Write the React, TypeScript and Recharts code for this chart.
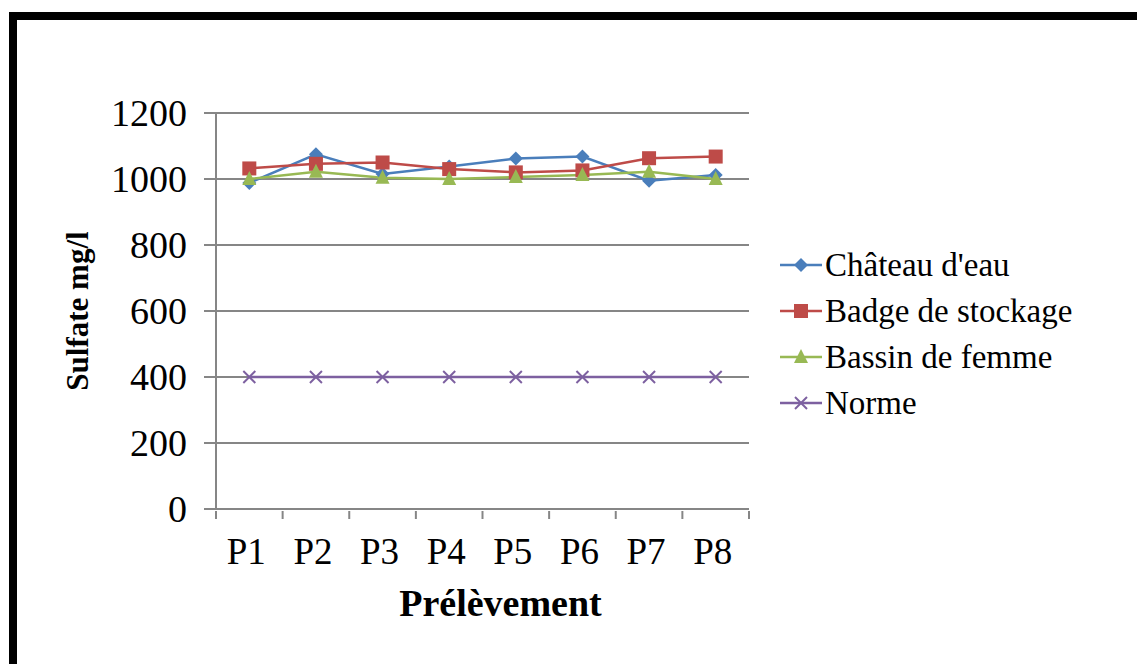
import React from 'react'
import {
  LineChart,
  Line,
  XAxis,
  YAxis,
  CartesianGrid,
  Legend,
} from 'recharts'

const categories = ['P1', 'P2', 'P3', 'P4', 'P5', 'P6', 'P7', 'P8']
const chateauDeau = [988, 1075, 1015, 1038, 1062, 1068, 995, 1012]
const badgeDeStockage = [1032, 1046, 1050, 1030, 1020, 1026, 1063, 1068]
const bassinDeFemme = [1000, 1022, 1004, 1000, 1006, 1012, 1022, 1000]
const norme = [400, 400, 400, 400, 400, 400, 400, 400]
const yTicks = [0, 200, 400, 600, 800, 1000, 1200]

const seriesInfo = [
  { key: 'chateau', name: "Château d'eau", color: '#4A7EBB', shape: 'diamond' },
  { key: 'badge', name: 'Badge de stockage', color: '#BE4B48', shape: 'square' },
  { key: 'bassin', name: 'Bassin de femme', color: '#98B954', shape: 'triangle' },
  { key: 'norme', name: 'Norme', color: '#7D60A0', shape: 'star' },
]

const data = categories.map((c, i) => ({
  name: c,
  chateau: chateauDeau[i],
  badge: badgeDeStockage[i],
  bassin: bassinDeFemme[i],
  norme: norme[i],
}))

const FONT = '"Liberation Serif", "Times New Roman", serif'
const AXIS_GRAY = '#868686'

const CHART_W = 1137
const CHART_H = 664
const MARGIN = { top: 113, right: 388, bottom: 45, left: 66 }
const Y_AXIS_W = 150
const X_AXIS_H = 110
const PLOT_W = CHART_W - MARGIN.left - MARGIN.right - Y_AXIS_W
const BAND = PLOT_W / categories.length

function marker(shape: string, cx: number, cy: number, color: string, k: string | number) {
  if (shape === 'diamond') {
    const r = 7
    return (
      <polygon key={k} points={`${cx},${cy - r} ${cx + r},${cy} ${cx},${cy + r} ${cx - r},${cy}`} fill={color} />
    )
  }
  if (shape === 'square') {
    return <rect key={k} x={cx - 7} y={cy - 7} width={14} height={14} fill={color} />
  }
  if (shape === 'triangle') {
    return (
      <polygon key={k} points={`${cx},${cy - 8} ${cx + 7},${cy + 6} ${cx - 7},${cy + 6}`} fill={color} />
    )
  }
  return (
    <g key={k} stroke={color} strokeWidth={2}>
      <line x1={cx - 6} y1={cy - 6} x2={cx + 6} y2={cy + 6} />
      <line x1={cx - 6} y1={cy + 6} x2={cx + 6} y2={cy - 6} />
    </g>
  )
}

function makeDot(shape: string, color: string) {
  return (props: any) => {
    const { cx, cy, index } = props
    if (cx == null || cy == null) return <g key={index} />
    return marker(shape, cx, cy, color, index)
  }
}

function XTick(props: any) {
  const { x, y, payload, index } = props
  const last = index === categories.length - 1
  return (
    <g>
      <line x1={x - BAND / 2} y1={y} x2={x - BAND / 2} y2={y + 8} stroke={AXIS_GRAY} strokeWidth={2} />
      {last && (
        <line x1={x + BAND / 2} y1={y} x2={x + BAND / 2} y2={y + 8} stroke={AXIS_GRAY} strokeWidth={2} />
      )}
      <text x={x - 3} y={y + 53} textAnchor="middle" fontFamily={FONT} fontSize={37} fill="#000">
        {payload.value}
      </text>
    </g>
  )
}

function LegendContent() {
  return (
    <div style={{ fontFamily: FONT, fontSize: 33, color: '#000' }}>
      {seriesInfo.map((s) => (
        <div key={s.key} style={{ display: 'flex', alignItems: 'center', height: 46 }}>
          <svg width={46} height={20} style={{ marginRight: 1 }}>
            <line x1={2} y1={10} x2={44} y2={10} stroke={s.color} strokeWidth={2.5} />
            {marker(s.shape, 23, 10, s.color, s.key)}
          </svg>
          <span>{s.name}</span>
        </div>
      ))}
    </div>
  )
}

export default function App() {
  return (
    <div style={{ position: 'absolute', left: 0, top: 0, width: CHART_W, height: CHART_H, background: '#fff', overflow: 'hidden' }}>
      <div
        style={{
          position: 'absolute',
          left: 9,
          top: 12,
          width: CHART_W,
          height: CHART_H,
          borderTop: '8px solid #000',
          borderLeft: '8px solid #000',
        }}
      />
      <div style={{ position: 'absolute', left: 0, top: 0 }}>
        <LineChart width={CHART_W} height={CHART_H} data={data} margin={MARGIN}>
          <CartesianGrid vertical={false} stroke={AXIS_GRAY} strokeWidth={2} />
          <XAxis
            dataKey="name"
            scale="band"
            height={X_AXIS_H}
            stroke={AXIS_GRAY}
            strokeWidth={2}
            tickLine={false}
            tickSize={0}
            tick={<XTick />}
            interval={0}
            label={{
              content: (p: any) => {
                const vb = p.viewBox
                return (
                  <text
                    x={vb.x + vb.width / 2 + 18}
                    y={vb.y + 107}
                    textAnchor="middle"
                    fontFamily={FONT}
                    fontSize={38}
                    fontWeight="bold"
                    fill="#000"
                  >
                    Prélèvement
                  </text>
                )
              },
            }}
          />
          <YAxis
            width={Y_AXIS_W}
            domain={[0, 1200]}
            ticks={yTicks}
            interval={0}
            stroke={AXIS_GRAY}
            strokeWidth={2}
            tickSize={12}
            tickMargin={17}
            tick={{ fontFamily: FONT, fontSize: 38, fill: '#000' }}
            label={{
              content: (p: any) => {
                const vb = p.viewBox
                const cx = vb.x + 11
                const cy = vb.y + vb.height / 2
                return (
                  <text
                    x={cx}
                    y={cy}
                    transform={`rotate(-90, ${cx}, ${cy})`}
                    textAnchor="middle"
                    dominantBaseline="central"
                    fontFamily={FONT}
                    fontSize={31}
                    fontWeight="bold"
                    fill="#000"
                  >
                    Sulfate mg/l
                  </text>
                )
              },
            }}
          />
          <Legend
            layout="vertical"
            align="center"
            verticalAlign="middle"
            content={<LegendContent />}
            wrapperStyle={{ left: 778, top: 242, width: 'auto' }}
          />
          {seriesInfo.map((s) => (
            <Line
              key={s.key}
              dataKey={s.key}
              name={s.name}
              type="linear"
              stroke={s.color}
              strokeWidth={2.5}
              dot={makeDot(s.shape, s.color)}
              activeDot={false}
              isAnimationActive={false}
            />
          ))}
        </LineChart>
      </div>
    </div>
  )
}
